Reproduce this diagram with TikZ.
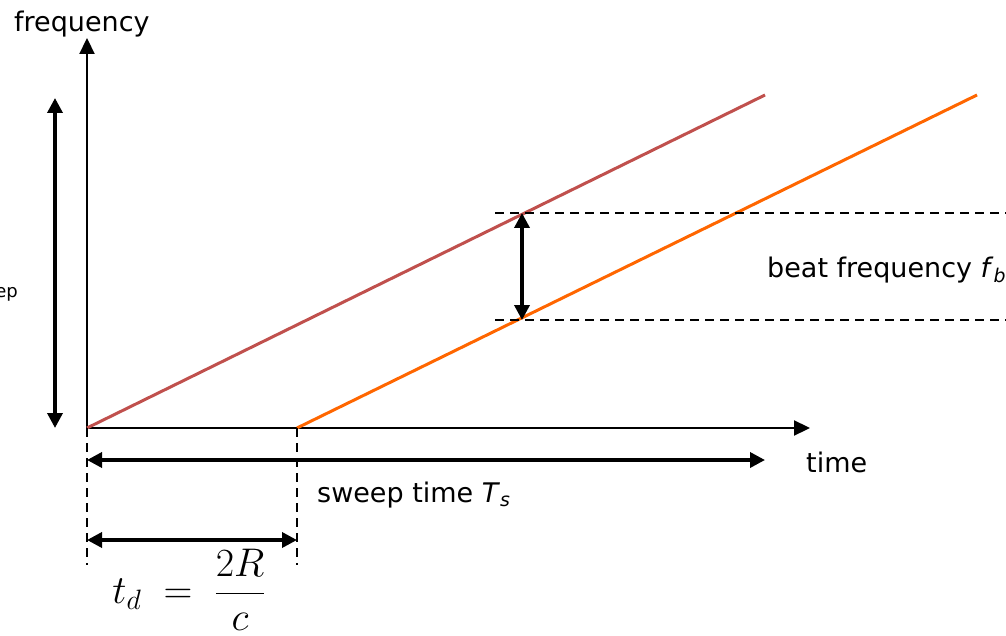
\RequirePackage{fix-cm}
\documentclass[tikz,border=0pt]{standalone}
\usepackage{fontspec}
\setmainfont{DejaVu Sans}
\usetikzlibrary{arrows.meta,positioning}
\definecolor{txred}{HTML}{C0504D}
\definecolor{rxorange}{HTML}{FF6600}

\begin{document}
\begin{tikzpicture}[x=1pt, y=-1pt, every node/.style={font=\fontsize{27}{32}\selectfont, inner sep=0pt},
  axis/.style={line width=2.2pt, -{Triangle[length=16pt, width=15pt]}},
  span/.style={line width=3.5pt, {Triangle[length=15pt, width=15pt]}-{Triangle[length=15pt, width=15pt]}},
  guide/.style={line width=1.8pt, dash pattern=on 9pt off 6pt},
  chirp/.style={line width=3pt}]
\useasboundingbox (0,0) rectangle (1006,636);
\clip (0,0) rectangle (1006,636);

% axes
\coordinate (o) at (87,428);
\coordinate (ytip) at (87,38);
\coordinate (xtip) at (810,428);
\draw[axis] (o) -- (ytip);
\draw[axis] (o) -- (xtip);
\node[anchor=base west] (freq) at (14,32) {frequency};
\node[anchor=base west] (time) at (806,472) {time};

% transmitted and received chirps
\coordinate (txend) at (765,95);
\coordinate (rxstart) at (297,428);
\coordinate (rxend) at (977,95);
\draw[chirp, txred] (o) -- (txend);
\draw[chirp, rxorange] (rxstart) -- (rxend);

% sweep bandwidth
\coordinate (bwtop) at (55,98);
\coordinate (bwbot) at (55,428);
\draw[span] (bwbot) -- (bwtop);
\node[anchor=base east, font=\fontsize{18}{22}\selectfont] (bw) at (18,297) {sweep};

% beat frequency
\coordinate (bhi) at (522,213);
\coordinate (blo) at (522,320);
\draw[guide] (495,213) coordinate (hi0) -- (1010,213) coordinate (hi1);
\draw[guide] (495,320) coordinate (lo0) -- (1010,320) coordinate (lo1);
\draw[span] (bhi) -- (blo);
\node[anchor=base west] (beat) at (767,277) {beat frequency \textit{f}\textsubscript{\textit{b}}};

% sweep time
\coordinate (ts0) at (87,460);
\coordinate (ts1) at (765,460);
\draw[span] (ts0) -- (ts1);
\node[anchor=base west] (sweep) at (317,502) {sweep time \textit{T}\textsubscript{\textit{s}}};

% round trip delay
\coordinate (d0) at (87,565);
\coordinate (d1) at (297,565);
\draw[guide] (o) -- (d0);
\draw[guide] (rxstart) -- (d1);
\coordinate (td0) at (87,540);
\coordinate (td1) at (297,540);
\draw[span] (td0) -- (td1);
\node[font=\fontsize{40}{46}\selectfont] (delay) at (189,590) {$\displaystyle t_d \;=\; \frac{2R}{c}$};
\end{tikzpicture}
\end{document}
